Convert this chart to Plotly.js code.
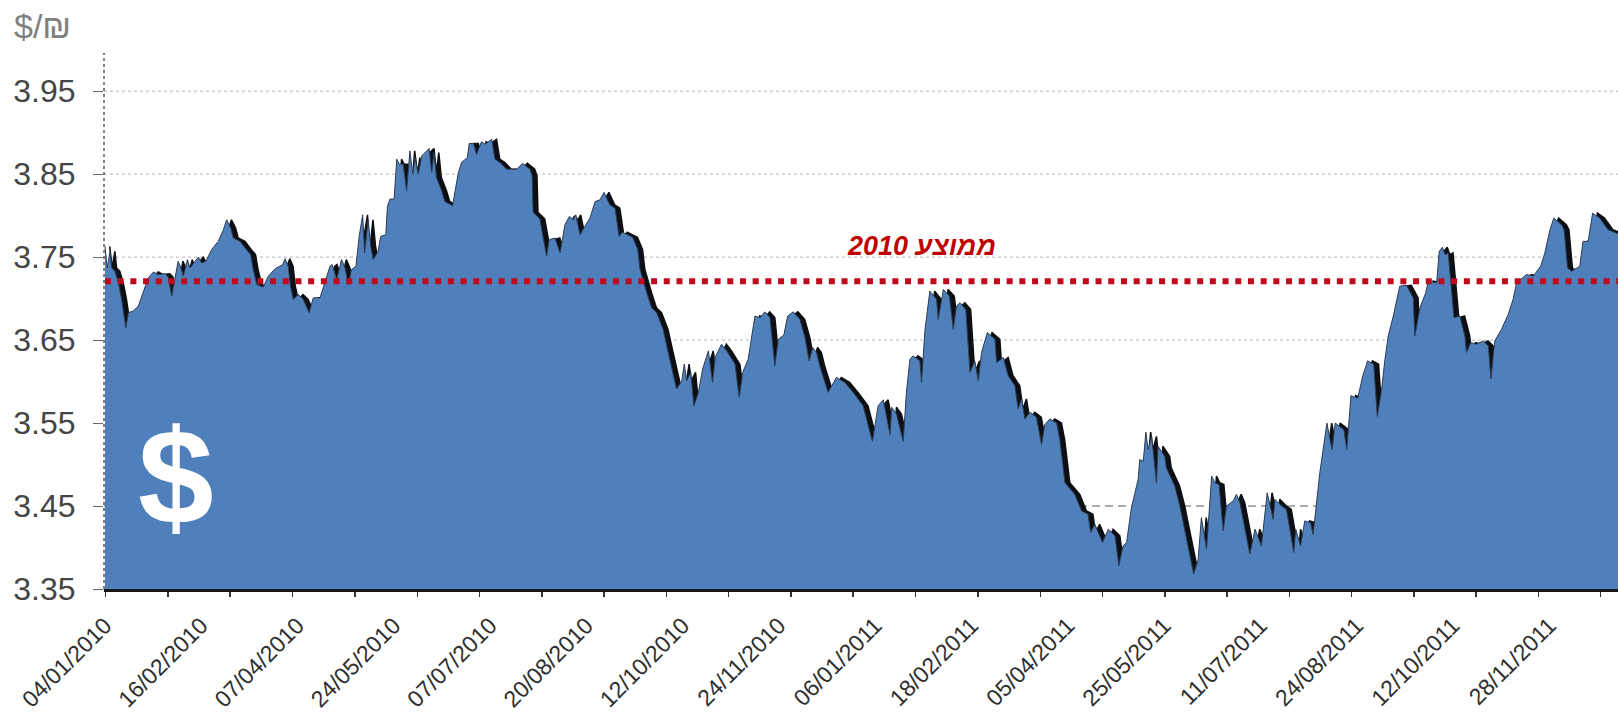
<!DOCTYPE html>
<html>
<head>
<meta charset="utf-8">
<script src="https://cdn.plot.ly/plotly-3.0.1.min.js"></script>
<style>html,body{margin:0;padding:0;background:#fff}</style>
</head>
<body>
<div id="chart" style="width:1618px;height:713px"></div>
<script>
const dayIndex = [0,0.7,1.6,2.1,3.1,4.2,5.2,6.5,7.3,8.8,10.4,11.9,13.5,15.1,16.6,18.7,19.7,20.8,21.8,22.8,23.7,24.4,25.7,26.5,29.1,30.1,31.5,33.2,35.3,36.9,37.9,39.2,40,42.1,44.1,45.4,46.2,47.3,49.3,50.9,53,55.4,56.1,57.1,57.8,58.7,60.2,61.8,63.6,64.9,67,68.5,70.1,70.8,72.2,73.7,74.8,75.8,76.8,78.2,79.2,
80.3,80.9,82,82.8,83.6,85.1,85.9,87.5,88,88.8,90.1,90.9,91.7,92.9,94,95,95.9,96.6,97.6,98.7,101,101.8,102.5,103.3,104.9,105.9,108.3,109,110.1,111.1,112.9,113.5,114.8,115.8,117.3,118.4,120.5,121.5,123.1,125.1,128.3,130.1,132.4,133.1,133.4,135.5,137.6,138.4,140.2,141.8,143.3,144.7,145.9,146.7,148,149.5,151.1,152.7,154.2,155.5,157.3,158.9,160.2,161.2,164.4,166,
166.7,168.8,170.3,171.9,173.9,175.5,178.1,179.7,180.5,181.2,182.5,183.5,184.9,186.2,188,189.3,190.1,192.1,193.7,196.3,197.6,198.7,200.4,202.5,204.1,205.6,207.2,208.7,209.8,211.5,212.7,214.4,216.5,218.1,219.4,220.5,221.7,222.7,225.3,227.9,230.5,233.1,236.2,239.1,240.9,
242.5,244.6,245.1,246.6,248.7,249.7,250.8,251.8,253.9,254.4,255.5,257,259.1,259.6,261.2,263.1,264.3,265.3,266.4,268.2,269.5,271,272.1,273.1,274.9,277.3,277.8,279.9,281.4,283.5,284.5,285.6,286.6,288.2,290.2,291.8,292.8,294.4,296.5,297.5,
299.1,302.2,304.3,306.3,307.1,308.4,310.8,312.6,314.7,315.9,317.2,318.3,319.8,321.9,322.4,323.5,324.3,325,326.1,327.6,328.1,330.2,330.7,333.3,334.9,337.5,339.2,340.6,341.6,343.2,344.8,345.8,347.1,348.4,349.4,351.5,352.5,353.6,356.7,358.3,360.3,362.1,364,364.5,366.6,368.1,370.4,371,372.5,373.8,375.6,376.4,378.5,
380.7,382.3,383.3,386,386.9,388.2,390.3,391.9,393.4,395.3,396.4,397.7,398.8,399.8,401.4,403.4,405.5,407.6,408.1,409.7,411.5,412.3,414.9,415.7,416.7,417.5,418.5,419.5,420.3,422.1,423.7,424.2,425.5,427.3,429.4,431,431.8,433,435.1,437.2,438.7,439.8,442.9,445,447.3,448.6,450.2,451.4,453.8,454.6,455.7,456.9,459.5,460.5,462.1,463.5,465.7,468.3,470.9,471.5];
const usdIls = [3.763,3.737,3.757,3.737,3.733,3.719,3.699,3.665,3.683,3.685,3.691,3.707,3.725,3.732,3.729,3.730,3.726,3.703,3.723,3.745,3.737,3.727,3.747,3.737,3.750,3.743,3.745,3.759,3.769,3.783,3.795,3.785,3.773,3.769,3.759,3.753,3.735,3.717,3.714,3.727,3.736,3.741,3.748,3.739,3.715,3.699,3.705,3.699,3.683,3.701,3.701,3.719,3.739,3.741,3.723,3.747,3.737,3.717,3.735,3.739,3.775,
3.801,3.755,3.795,3.763,3.747,3.757,3.775,3.777,3.811,3.820,3.820,3.868,3.862,3.862,3.830,3.878,3.850,3.870,3.850,3.872,3.881,3.852,3.876,3.846,3.830,3.817,3.812,3.826,3.852,3.864,3.870,3.887,3.887,3.874,3.889,3.886,3.892,3.868,3.864,3.856,3.856,3.863,3.856,3.848,3.804,3.796,3.751,3.771,3.773,3.755,3.789,3.799,3.795,3.801,3.777,3.787,3.797,3.817,3.819,3.828,3.813,3.809,3.775,3.780,3.774,3.759,
3.735,3.707,3.689,3.683,3.663,3.635,3.591,3.601,3.621,3.601,3.611,3.571,3.587,3.615,3.637,3.599,3.629,3.645,3.637,3.621,3.581,3.611,3.627,3.679,3.677,3.684,3.677,3.619,3.651,3.656,3.679,3.684,3.675,3.653,3.625,3.641,3.635,3.619,3.587,3.605,3.599,3.587,3.571,3.528,3.571,
3.578,3.536,3.569,3.561,3.528,3.587,3.627,3.631,3.625,3.599,3.663,3.709,3.699,3.675,3.711,3.703,3.663,3.691,3.695,3.687,3.611,3.625,3.601,3.635,3.659,3.651,3.623,3.629,3.607,3.595,3.567,3.579,3.555,3.563,3.557,3.524,3.548,3.555,3.550,3.530,
3.478,3.464,3.444,3.440,3.418,3.428,3.406,3.422,3.414,3.378,3.402,3.406,3.448,3.482,3.506,3.504,3.539,3.518,3.534,3.478,3.522,3.510,3.496,3.474,3.450,3.398,3.368,3.386,3.436,3.398,3.486,3.478,3.476,3.420,3.450,3.456,3.464,3.454,3.392,3.422,3.402,3.466,3.434,3.458,3.450,3.446,3.394,3.422,3.402,3.432,3.430,3.416,3.490,
3.550,3.518,3.550,3.542,3.518,3.583,3.580,3.607,3.625,3.621,3.558,3.589,3.627,3.655,3.679,3.715,3.716,3.701,3.655,3.689,3.707,3.721,3.719,3.757,3.762,3.753,3.755,3.711,3.677,3.679,3.655,3.635,3.647,3.645,3.649,3.643,3.603,3.649,3.663,3.681,3.699,3.719,3.729,3.727,3.739,3.755,3.783,3.797,3.789,3.783,3.737,3.733,3.739,3.769,3.769,3.803,3.797,3.783,3.779,3.778];
const average2010 = 3.721;
const averageLabel = "ממוצע 2010";
const unitLabel = "$/₪";
const currencyMark = "$";
const xTickIndex = [0,30,60,90,120,150,180,210,240,270,300,330,360,390,420,450];
const xTickLabels = ["04/01/2010","16/02/2010","07/04/2010","24/05/2010","07/07/2010","20/08/2010","12/10/2010","24/11/2010","06/01/2011","18/02/2011","05/04/2011","25/05/2011","11/07/2011","24/08/2011","12/10/2011","28/11/2011"];
const xMinorIndex = [0.2,19.6,39,58.4,77.9,97.3,116.7,136.1,155.5,174.9,194.3,213.7,233.1,252.5,272,291.4,310.8,330.2,349.6,369,388.4,407.8,427.2,446.6,466];
const yTicks = [3.35,3.45,3.55,3.65,3.75,3.85,3.95];
const gridLevels = [3.65,3.75,3.85,3.95];
const dashedLevel = 3.45;

const fontName = "'Liberation Sans', Arial, sans-serif";
const shadowOffset = 1.5;

const traces = [
  {x: dayIndex.map(v => v + shadowOffset), y: usdIls, type:'scatter', mode:'lines', fill:'tozeroy',
   fillcolor:'#0c0f14', line:{color:'#0c0f14', width:1.5}, hoverinfo:'skip', showlegend:false},
  {x: dayIndex, y: usdIls, type:'scatter', mode:'lines', fill:'tozeroy',
   fillcolor:'#4f80bb', line:{color:'#2c3c52', width:1}, showlegend:false},
  {x: [dayIndex[0], dayIndex[dayIndex.length-1]], y: [average2010, average2010], type:'scatter', mode:'lines',
   line:{color:'#bf0a1e', width:6, dash:'6px,6.7px'}, hoverinfo:'skip', showlegend:false}
];

const gridShapes = gridLevels.map(v => ({type:'line', xref:'paper', x0:0, x1:1, yref:'y', y0:v, y1:v,
  layer:'below', line:{color:'#b5b5b5', width:1, dash:'dot'}}));
gridShapes.push({type:'line', xref:'paper', x0:0, x1:1, yref:'y', y0:dashedLevel, y1:dashedLevel,
  layer:'below', line:{color:'#5a5a5a', width:1, dash:'8px,5px'}});
gridShapes.push({type:'line', xref:'x domain', x0:0, x1:0, yref:'y domain', y0:0, y1:1,
  layer:'above', line:{color:'#555555', width:1.5, dash:'dot'}});

const layout = {
  width:1618, height:713,
  margin:{l:104, r:0, t:53, b:124},
  paper_bgcolor:'#ffffff', plot_bgcolor:'#ffffff',
  showlegend:false,
  font:{family:fontName, color:'#3a3a3a'},
  xaxis:{
    range:[-0.3,471.4], showgrid:false, zeroline:false,
    showline:true, linecolor:'#161616', linewidth:3,
    tickmode:'array', tickvals:xTickIndex, ticktext:xTickLabels,
    ticks:'', tickangle:-45, ticklabelstandoff:11,
    tickfont:{family:fontName, size:23, color:'#2e2e2e'},
    minor:{tickmode:'array', tickvals:xMinorIndex, ticks:'outside', ticklen:5, tickwidth:1.5, tickcolor:'#333333', showgrid:false}
  },
  yaxis:{
    range:[3.35,3.996], showgrid:false, zeroline:false, showline:false,
    tickmode:'array', tickvals:yTicks, ticktext:yTicks.map(v => v.toFixed(2)),
    ticks:'outside', ticklen:10, tickwidth:1, tickcolor:'#666666', ticklabelstandoff:11,
    tickfont:{family:fontName, size:32, color:'#454545'}
  },
  shapes:gridShapes,
  annotations:[
    {xref:'x', yref:'y', x:254.5, y:3.764, text:averageLabel, showarrow:false, xanchor:'center', yanchor:'middle',
     font:{family:fontName, size:27, color:'#c00000', weight:'bold', style:'italic'}},
    {xref:'paper', yref:'paper', x:-0.0605, y:1.05, text:unitLabel, showarrow:false, xanchor:'left', yanchor:'middle',
     font:{family:fontName, size:34, color:'#808080'}},
    {xref:'x', yref:'y', x:22, y:3.4846, text:currencyMark, showarrow:false, xanchor:'center', yanchor:'middle',
     font:{family:fontName, size:136, color:'#ffffff', weight:'bold'}}
  ]
};
Plotly.newPlot('chart', traces, layout, {displayModeBar:false, staticPlot:true});
</script>
</body>
</html>
